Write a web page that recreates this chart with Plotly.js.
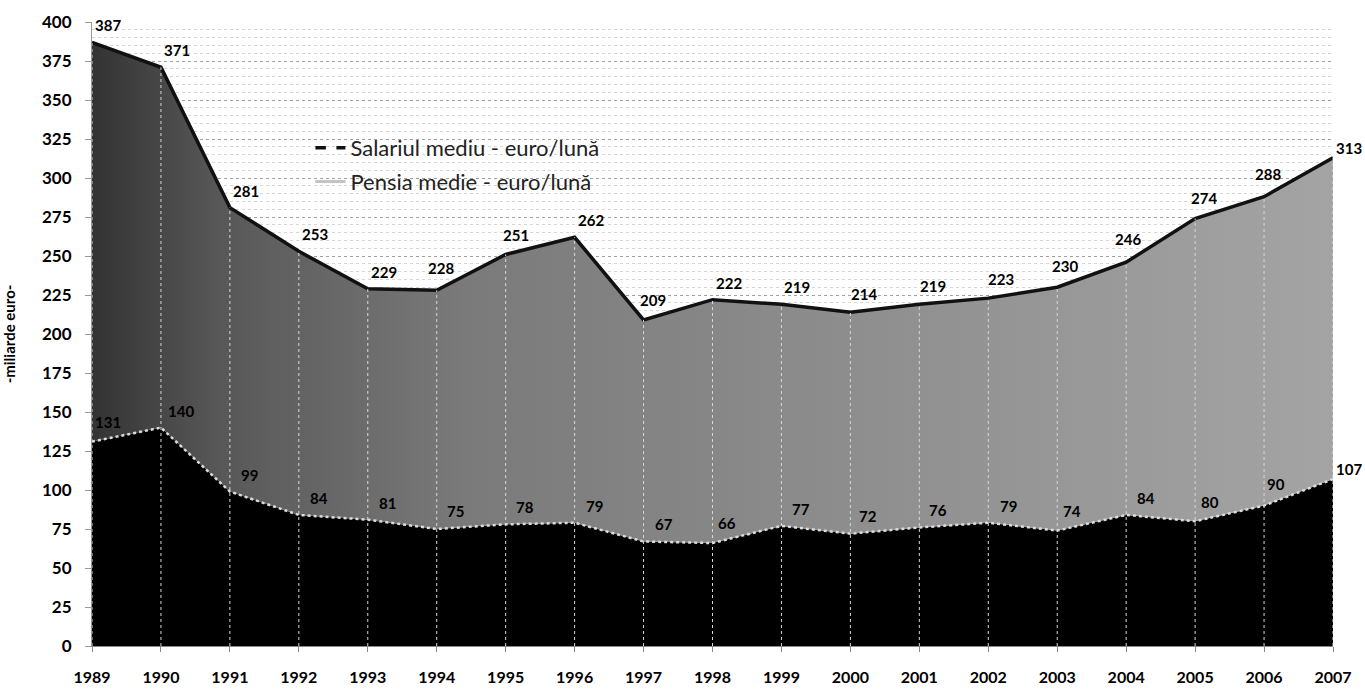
<!DOCTYPE html>
<html>
<head>
<meta charset="utf-8">
<script src="https://cdn.plot.ly/plotly-3.0.1.min.js"></script>
<style>html,body{margin:0;padding:0;background:#fff;}#chart{width:1365px;height:691px;}</style>
</head>
<body>
<div id="chart"></div>
<script>
const years = [1989,1990,1991,1992,1993,1994,1995,1996,1997,1998,1999,2000,2001,2002,2003,2004,2005,2006,2007];
const salary = [387,371,281,253,229,228,251,262,209,222,219,214,219,223,230,246,274,288,313];
const pension = [131,140,99,84,81,75,78,79,67,66,77,72,76,79,74,84,80,90,107];
const salaryName = 'Salariul mediu - euro/lună';
const pensionName = 'Pensia medie - euro/lună';
const yTitle = '-miliarde euro-';

const FONT = 'Lato, "Open Sans", "DejaVu Sans", sans-serif';
const LABEL_FONT = {family: FONT, size: 15, color: '#000', weight: 'bold'};

const traces = [
  {
    x: years, y: pension, type: 'scatter', mode: 'lines',
    fill: 'tozeroy', fillcolor: '#000000',
    line: {color: '#dcdcdc', width: 2.5, dash: 'dot'},
    showlegend: false, hoverinfo: 'x+y'
  },
  {
    x: years, y: salary, type: 'scatter', mode: 'lines',
    fill: 'tonexty',
    fillgradient: {type: 'horizontal', colorscale: [[0, '#333333'], [0.1, '#575757'], [0.3, '#7a7a7a'], [0.6, '#8d8d8d'], [1, '#a4a4a4']]},
    line: {color: '#111111', width: 3.5},
    showlegend: false, hoverinfo: 'x+y'
  },
  {
    x: [null], y: [null], type: 'scatter', mode: 'lines', name: salaryName,
    line: {color: '#111', width: 3.5, dash: 'dash'}, showlegend: true, legend: 'legend'
  },
  {
    x: [null], y: [null], type: 'scatter', mode: 'lines', name: pensionName,
    line: {color: '#c4c4c4', width: 3}, showlegend: true, legend: 'legend2'
  }
];

const shapes = years.map((yr, i) => ({
  type: 'line', xref: 'x', yref: 'y', x0: yr, x1: yr, y0: 0, y1: salary[i],
  line: {color: '#d8d8d8', width: 1, dash: 'dot'}, layer: 'above'
}));

const last = years.length - 1;
function labels(vals, dx) {
  return vals.map((v, i) => {
    // keep labels clear of a steeply rising next segment
    const rise = i < last ? Math.max(0, vals[i + 1] - v) : 0;
    return {
      x: years[i], y: v, xref: 'x', yref: 'y', text: String(v), showarrow: false,
      xanchor: 'center', yanchor: 'middle',
      xshift: i === last ? 16 : Math.max(0, dx - 0.5 * rise),
      yshift: i === last ? 10 : 17 + Math.min(6, 0.25 * rise),
      font: LABEL_FONT
    };
  });
}
const annotations = labels(salary, 16).concat(labels(pension, 20));

const legendStyle = {
  font: {family: FONT, size: 22, color: '#222'},
  bgcolor: 'rgba(0,0,0,0)', borderwidth: 0,
  xanchor: 'left', yanchor: 'middle', x: 0.176
};

const layout = {
  width: 1365, height: 691,
  margin: {l: 92, r: 32, t: 22, b: 45},
  paper_bgcolor: '#ffffff', plot_bgcolor: '#ffffff',
  font: {family: FONT, color: '#000'},
  xaxis: {
    range: [1989, 2007], tickvals: years, ticktext: years.map(String),
    showgrid: false, zeroline: false, showline: true,
    linecolor: '#888', linewidth: 1,
    ticks: 'outside', ticklen: 5, tickcolor: '#888',
    ticklabelstandoff: 12,
    tickfont: {family: FONT, size: 16, color: '#000', weight: 'bold'}
  },
  yaxis: {
    range: [0, 400], dtick: 25, tick0: 0,
    showgrid: true, gridcolor: '#a0a0a0', griddash: 'dot', gridwidth: 1,
    minor: {dtick: 5, showgrid: true, gridcolor: '#d6d6d6', griddash: 'dot', gridwidth: 1},
    zeroline: false, showline: true, linecolor: '#999', linewidth: 1,
    ticks: 'outside', ticklen: 6, tickcolor: '#999',
    ticklabelstandoff: 10,
    tickfont: {family: FONT, size: 17, color: '#000', weight: 'bold'},
    title: {text: yTitle, standoff: 26, font: {family: FONT, size: 15, color: '#000', weight: 'bold'}}
  },
  legend: Object.assign({}, legendStyle, {y: 0.798}),
  legend2: Object.assign({}, legendStyle, {y: 0.744}),
  shapes: shapes,
  annotations: annotations,
  showlegend: true
};

Plotly.newPlot('chart', traces, layout, {displayModeBar: false, staticPlot: true});
</script>
</body>
</html>
